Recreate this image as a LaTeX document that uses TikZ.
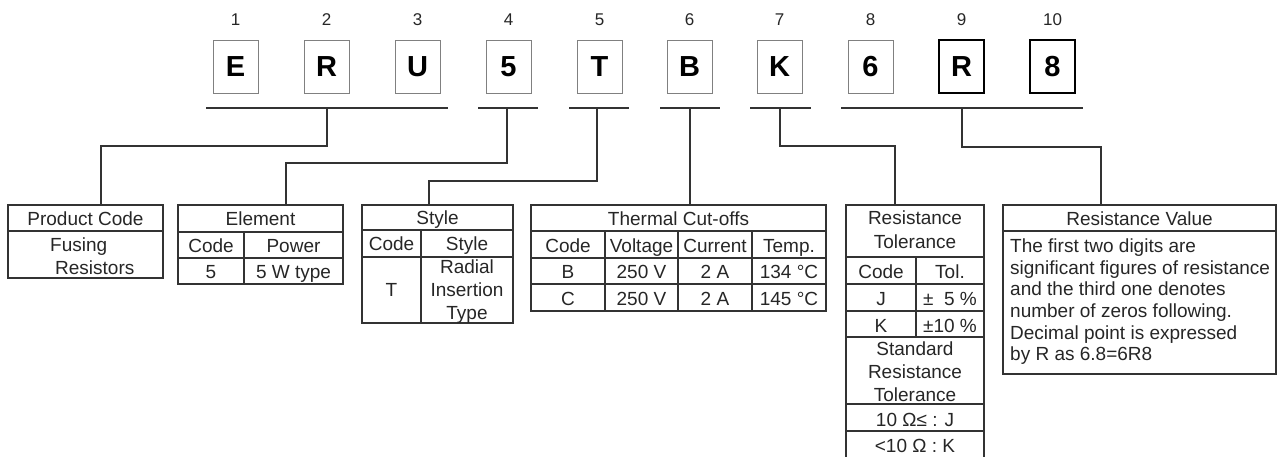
\documentclass[tikz,border=0pt]{standalone}
\usepackage{fontspec}
\setmainfont{Liberation Sans}
\begin{document}
\begin{tikzpicture}[x=1pt,y=-1pt,
  ln/.style={draw=black!80, line width=1.1pt},
  tbl/.style={draw=black!80, line width=1.2pt, anchor=north west, inner sep=0, outer sep=0},
  lbox/.style={draw=black!50, line width=0.9pt, minimum width=45pt, minimum height=53pt, inner sep=0, font=\fontsize{29}{29}\selectfont\bfseries, text height=21pt, text depth=0pt},
  lboxd/.style={lbox, draw=black, line width=1.4pt},
  num/.style={anchor=base, inner sep=0, font=\fontsize{17}{17}\selectfont, text=black!85},
  tx/.style={anchor=base, inner sep=0, font=\fontsize{19}{22}\selectfont, text=black!85},
  txl/.style={tx, anchor=base west}]
\useasboundingbox (0,0) rectangle (1278,457);

% letter boxes
\node[lbox]  (b1)  at (235.5,66.5) {E};
\node[lbox]  (b2)  at (326.5,66.5) {R};
\node[lbox]  (b3)  at (417.5,66.5) {U};
\node[lbox]  (b4)  at (508.5,66.5) {5};
\node[lbox]  (b5)  at (599.5,66.5) {T};
\node[lbox]  (b6)  at (689.5,66.5) {B};
\node[lbox]  (b7)  at (779.5,66.5) {K};
\node[lbox]  (b8)  at (870.5,66.5) {6};
\node[lboxd] (b9)  at (961.5,66.5) {R};
\node[lboxd] (b10) at (1052.5,66.5) {8};

% position numbers
\node[num] (n1)  at (235.5,25.5) {1};
\node[num] (n2)  at (326.5,25.5) {2};
\node[num] (n3)  at (417.5,25.5) {3};
\node[num] (n4)  at (508.5,25.5) {4};
\node[num] (n5)  at (599.5,25.5) {5};
\node[num] (n6)  at (689.5,25.5) {6};
\node[num] (n7)  at (779.5,25.5) {7};
\node[num] (n8)  at (870.5,25.5) {8};
\node[num] (n9)  at (961.5,25.5) {9};
\node[num] (n10) at (1052.5,25.5) {10};

% underlines
\coordinate (u1L) at (206,108);  \coordinate (u1R) at (448,108);  \coordinate (u1) at (327,108);
\coordinate (u4L) at (478,108);  \coordinate (u4R) at (538,108);  \coordinate (u4) at (507,108);
\coordinate (u5L) at (569,108);  \coordinate (u5R) at (629,108);  \coordinate (u5) at (597,108);
\coordinate (u6L) at (660,108);  \coordinate (u6R) at (720,108);  \coordinate (u6) at (690,108);
\coordinate (u7L) at (750,108);  \coordinate (u7R) at (811,108);  \coordinate (u7) at (780,108);
\coordinate (u8L) at (841,108);  \coordinate (u8R) at (1083,108); \coordinate (u8) at (962,108);
\draw[ln] (u1L) -- (u1R);
\draw[ln] (u4L) -- (u4R);
\draw[ln] (u5L) -- (u5R);
\draw[ln] (u6L) -- (u6R);
\draw[ln] (u7L) -- (u7R);
\draw[ln] (u8L) -- (u8R);

% tables
\node[tbl, minimum width=155pt, minimum height=73pt]  (pc) at (8,205) {};
\node[tbl, minimum width=165pt, minimum height=79pt]  (el) at (178,205) {};
\node[tbl, minimum width=151pt, minimum height=118pt] (st) at (362,205) {};
\node[tbl, minimum width=295pt, minimum height=106pt] (tc) at (531,205) {};
\node[tbl, minimum width=138pt, minimum height=253pt] (rt) at (846,205) {};
\node[tbl, minimum width=273pt, minimum height=169pt] (rv) at (1003,205) {};

% entry points
\coordinate (pcin) at (101,205);
\coordinate (elin) at (286,205);
\coordinate (stin) at (429,205);
\coordinate (tcin) at (690,205);
\coordinate (rtin) at (895,205);
\coordinate (rvin) at (1101,205);

% connectors
\draw[ln] (u1) |- (pcin |- 0,146) -- (pcin);
\draw[ln] (u4) |- (elin |- 0,163) -- (elin);
\draw[ln] (u5) |- (stin |- 0,181) -- (stin);
\draw[ln] (u6) -- (tcin);
\draw[ln] (u7) |- (rtin |- 0,146) -- (rtin);
\draw[ln] (u8) |- (rvin |- 0,147) -- (rvin);

% Product Code
\draw[ln] (8,231) -- (163,231);
\node[tx]  (pc1) at (85.5,226) {Product Code};
\node[txl] (pc2) at (50,252) {Fusing};
\node[txl] (pc3) at (55,275) {Resistors};

% Element
\draw[ln] (178,232) -- (343,232);
\draw[ln] (178,258) -- (343,258);
\draw[ln] (244,232) -- (244,284);
\node[tx] (el1) at (260.5,226) {Element};
\node[tx] (el2) at (211,252.5) {Code};
\node[tx] (el3) at (293.5,252.5) {Power};
\node[tx] (el4) at (211,278.5) {5};
\node[tx] (el5) at (293.5,278.5) {5 W type};

% Style
\draw[ln] (362,230) -- (513,230);
\draw[ln] (362,257) -- (513,257);
\draw[ln] (421,230) -- (421,323);
\node[tx] (st1) at (437.5,224.5) {Style};
\node[tx] (st2) at (391.5,251) {Code};
\node[tx] (st3) at (467,251) {Style};
\node[tx] (st4) at (391.5,296.5) {T};
\node[tx] (st5) at (467,273.5) {Radial};
\node[tx] (st6) at (467,296.5) {Insertion};
\node[tx] (st7) at (467,319.5) {Type};

% Thermal Cut-offs
\draw[ln] (531,231) -- (826,231);
\draw[ln] (531,258) -- (826,258);
\draw[ln] (531,284) -- (826,284);
\draw[ln] (605,231) -- (605,311);
\draw[ln] (678,231) -- (678,311);
\draw[ln] (752,231) -- (752,311);
\node[tx] (tc0) at (678.5,225.5) {Thermal Cut-offs};
\node[tx] (tc1) at (568,252.5) {Code};
\node[tx] (tc2) at (641.5,252.5) {Voltage};
\node[tx] (tc3) at (715,252.5) {Current};
\node[tx] (tc4) at (789,252.5) {Temp.};
\node[tx] (tc5) at (568,279) {B};
\node[tx] (tc6) at (641.5,279) {250 V};
\node[tx] (tc7) at (715,279) {2 A};
\node[tx] (tc8) at (789,279) {134 °C};
\node[tx] (tc9) at (568,305.5) {C};
\node[tx] (tc10) at (641.5,305.5) {250 V};
\node[tx] (tc11) at (715,305.5) {2 A};
\node[tx] (tc12) at (789,305.5) {145 °C};

% Resistance Tolerance
\draw[ln] (846,257) -- (984,257);
\draw[ln] (846,284) -- (984,284);
\draw[ln] (846,311) -- (984,311);
\draw[ln] (846,337) -- (984,337);
\draw[ln] (846,404) -- (984,404);
\draw[ln] (846,431) -- (984,431);
\draw[ln] (916,257) -- (916,337);
\node[tx] (rt1) at (915,225) {Resistance};
\node[tx] (rt2) at (915,249) {Tolerance};
\node[tx] (rt3) at (881,278.5) {Code};
\node[tx] (rt4) at (950,278.5) {Tol.};
\node[tx] (rt5) at (881,305.5) {J};
\node[tx] (rt6) at (950,305.5) {±\phantom{1}5 \%};
\node[tx] (rt7) at (881,332) {K};
\node[tx] (rt8) at (950,332) {±10 \%};
\node[tx] (rt9) at (915,355) {Standard};
\node[tx] (rt10) at (915,378) {Resistance};
\node[tx] (rt11) at (915,401.5) {Tolerance};
\node[tx] (rt12) at (915,426) {10 Ω≤ : J};
\node[tx] (rt13) at (915,452) {<10 Ω : K};

% Resistance Value
\draw[ln] (1003,231) -- (1276,231);
\node[tx]  (rv0) at (1139.5,225.5) {Resistance Value};
\node[txl] (rv1) at (1010,253) {The first two digits are};
\node[txl] (rv2) at (1010,274.5) {significant figures of resistance};
\node[txl] (rv3) at (1010,296) {and the third one denotes};
\node[txl] (rv4) at (1010,317.5) {number of zeros following.};
\node[txl] (rv5) at (1010,339) {Decimal point is expressed};
\node[txl] (rv6) at (1010,360.5) {by R as 6.8=6R8};
\end{tikzpicture}
\end{document}
